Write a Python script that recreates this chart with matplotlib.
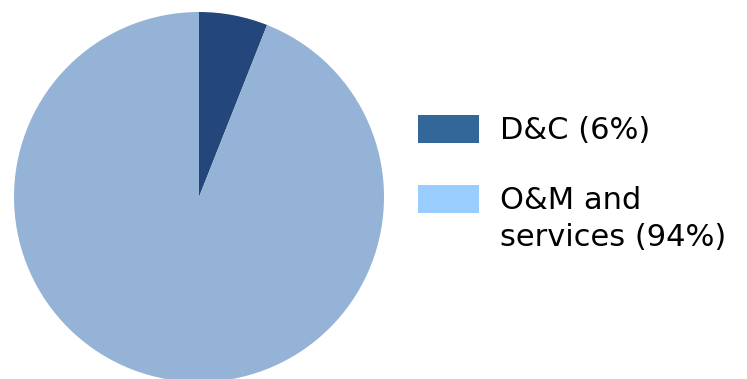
import matplotlib.pyplot as plt
from matplotlib.patches import Rectangle

labels = ["D&C (6%)", "O&M and\nservices (94%)"]
shares = [6, 94]
pie_colors = ["#23477a", "#95b3d7"]
key_colors = ["#336699", "#99ccff"]

W, H = 747, 379
fig = plt.figure(figsize=(W / 100, H / 100), dpi=100)

# pie: centre (199, 197) px, radius 185 px
cx, cy, r = 199, 197, 185
ax = fig.add_axes([(cx - r) / W, (H - cy - r) / H, 2 * r / W, 2 * r / H])
ax.pie(shares, colors=pie_colors, startangle=90, counterclock=False,
       radius=1, wedgeprops=dict(linewidth=0))
ax.set_xlim(-1, 1)
ax.set_ylim(-1, 1)
ax.set_aspect("auto")
ax.axis("off")

# legend drawn by hand
box_tops = [115, 185]
for i, (lab, col) in enumerate(zip(labels, key_colors)):
    top = box_tops[i]
    fig.add_artist(Rectangle((418 / W, (H - top - 28) / H), 61 / W, 28 / H,
                             transform=fig.transFigure, color=col, lw=0))
    base = top + 24
    for j, line in enumerate(lab.split("\n")):
        fig.text(500 / W, (H - base - 37 * j) / H, line, fontsize=22,
                 family="DejaVu Sans", va="baseline", ha="left", color="black")

fig.savefig("out.png", dpi=100)
